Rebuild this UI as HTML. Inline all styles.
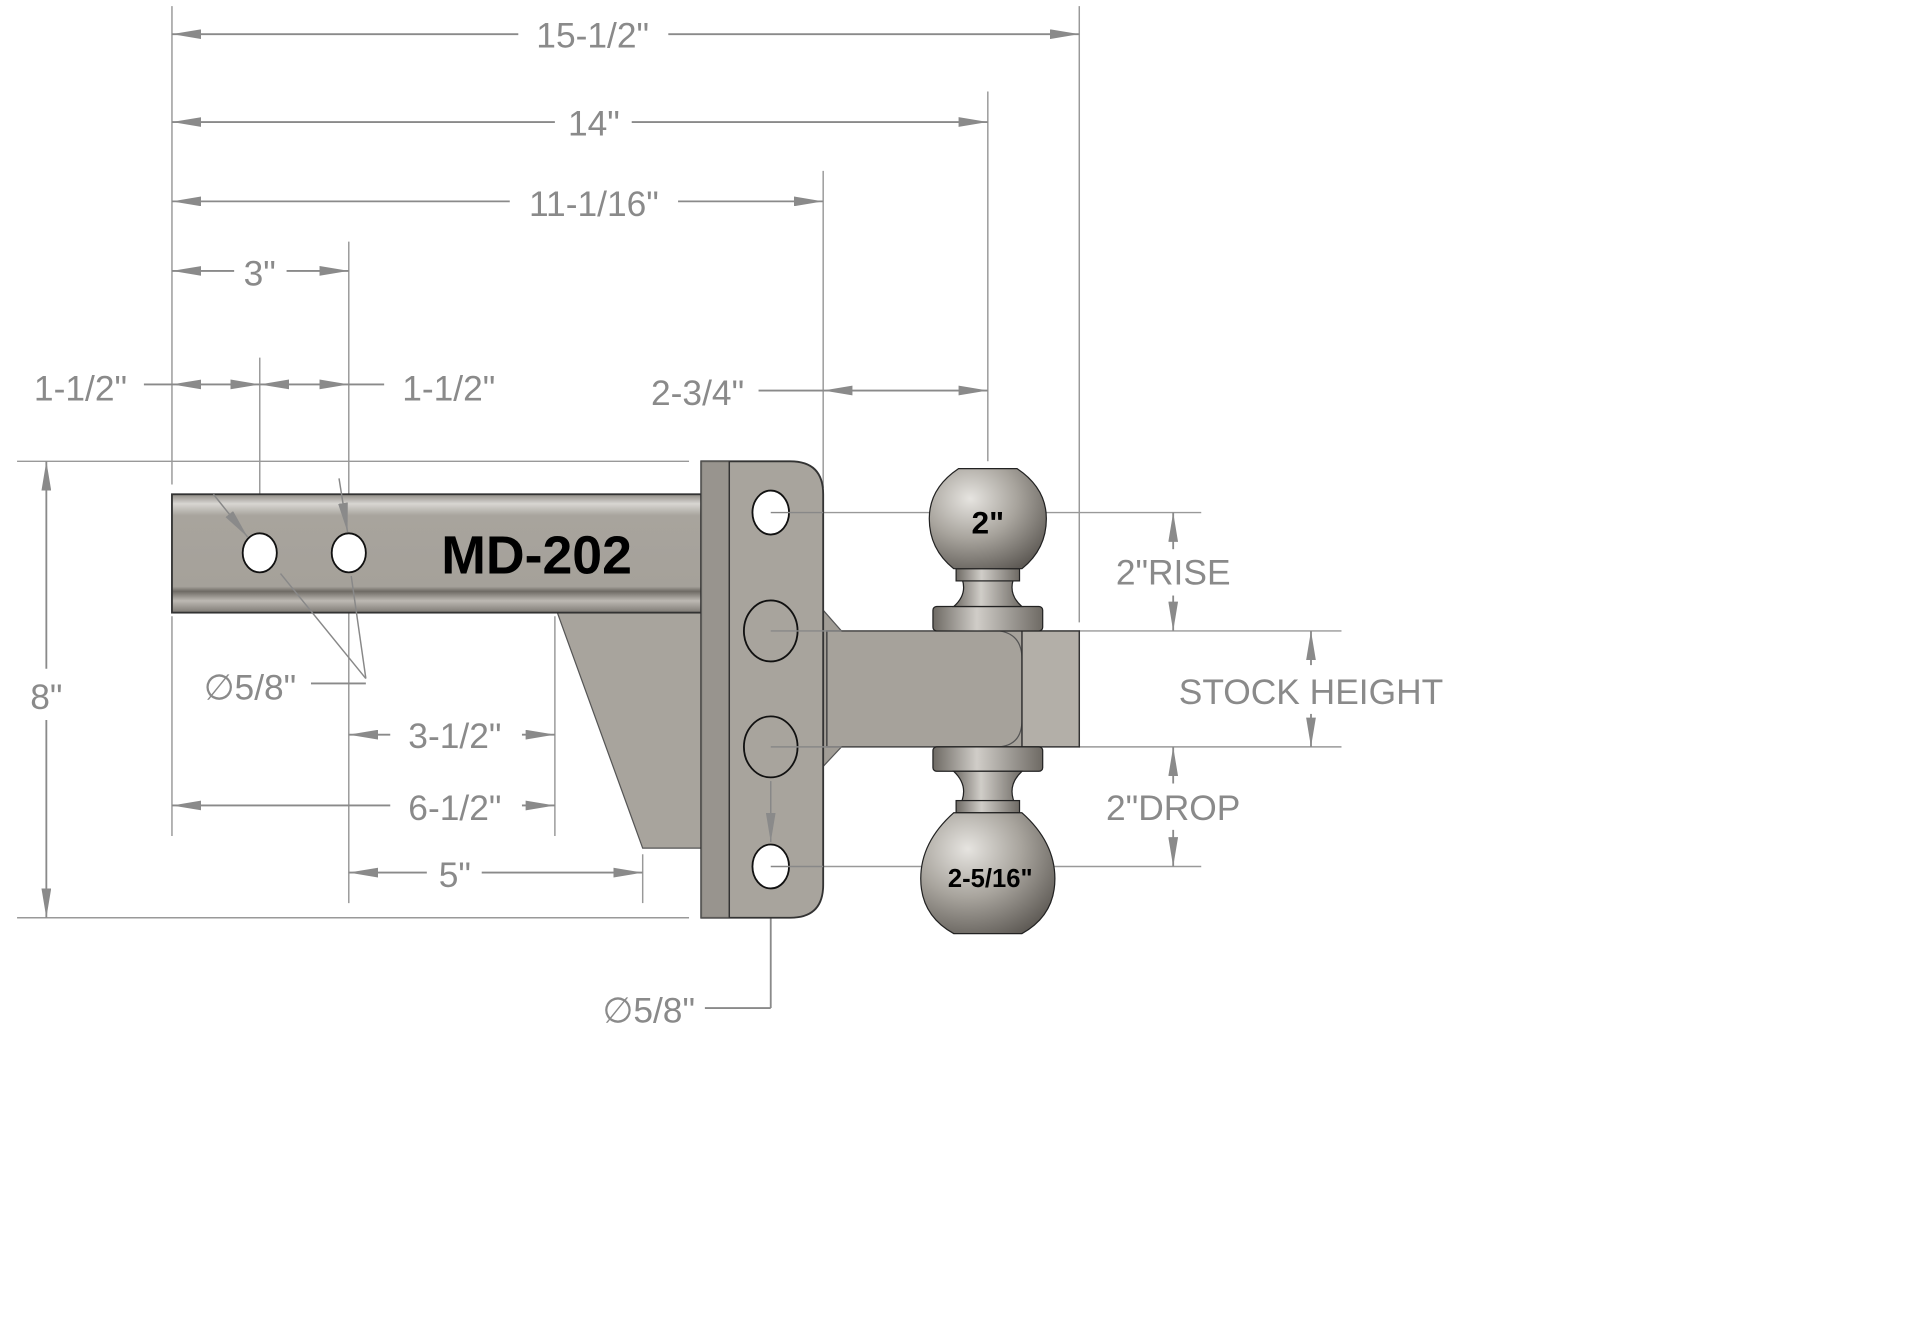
<!DOCTYPE html>
<html><head><meta charset="utf-8"><style>html,body{margin:0;padding:0;background:#fff}svg{display:block}</style></head>
<body>
<svg width="1911" height="1329" viewBox="0 0 1567 1089" preserveAspectRatio="none" xmlns="http://www.w3.org/2000/svg">
<defs>
<linearGradient id="bar" x1="0" y1="0" x2="0" y2="1">
<stop offset="0" stop-color="#8f8b84"/><stop offset="0.08" stop-color="#d8d6d2"/><stop offset="0.18" stop-color="#a8a49d"/><stop offset="0.78" stop-color="#a5a19a"/><stop offset="0.82" stop-color="#6e6a64"/><stop offset="0.9" stop-color="#bdb9b3"/><stop offset="1" stop-color="#7e7a74"/>
</linearGradient>
<radialGradient id="ball" cx="0.35" cy="0.3" r="0.8">
<stop offset="0" stop-color="#e6e4e0"/><stop offset="0.5" stop-color="#a8a49d"/><stop offset="1" stop-color="#5e5a55"/>
</radialGradient>
<linearGradient id="neck" x1="0" y1="0" x2="1" y2="0">
<stop offset="0" stop-color="#6e6a64"/><stop offset="0.4" stop-color="#d0cdc8"/><stop offset="1" stop-color="#6e6a64"/>
</linearGradient>
<marker id="b" viewBox="0 0 24 8" refX="24" refY="4" markerWidth="24" markerHeight="8" markerUnits="userSpaceOnUse" orient="auto-start-reverse"><path d="M0,0L24,4L0,8z" fill="#8a8a8a"/></marker>
</defs>
<g stroke="#999" stroke-width="1.2" fill="none">
<line x1="141" y1="5" x2="141" y2="397"/><line x1="141" y1="505" x2="141" y2="685"/>
<line x1="885" y1="5" x2="885" y2="510"/>
<line x1="810" y1="75" x2="810" y2="378"/>
<line x1="675" y1="140" x2="675" y2="400"/>
<line x1="286" y1="198" x2="286" y2="440"/><line x1="286" y1="470" x2="286" y2="740"/>
<line x1="213" y1="293" x2="213" y2="440"/>
<line x1="14" y1="378" x2="565" y2="378"/><line x1="14" y1="752" x2="565" y2="752"/>
<line x1="455" y1="505" x2="455" y2="685"/>
<line x1="527" y1="700" x2="527" y2="740"/>
<line x1="645" y1="420" x2="985" y2="420"/><line x1="645" y1="710" x2="985" y2="710"/>
<line x1="885" y1="517" x2="1100" y2="517"/><line x1="885" y1="612" x2="1100" y2="612"/>
</g>
<g stroke="#8a8a8a" stroke-width="1.5" fill="none">
<line x1="141" y1="28" x2="425" y2="28" marker-start="url(#b)"/><line x1="548" y1="28" x2="885" y2="28" marker-end="url(#b)"/>
<line x1="141" y1="100" x2="455" y2="100" marker-start="url(#b)"/><line x1="518" y1="100" x2="810" y2="100" marker-end="url(#b)"/>
<line x1="141" y1="165" x2="418" y2="165" marker-start="url(#b)"/><line x1="556" y1="165" x2="675" y2="165" marker-end="url(#b)"/>
<line x1="141" y1="222" x2="192" y2="222" marker-start="url(#b)"/><line x1="235" y1="222" x2="286" y2="222" marker-end="url(#b)"/>
<line x1="118" y1="315" x2="141" y2="315"/>
<line x1="141" y1="315" x2="213" y2="315" marker-start="url(#b)" marker-end="url(#b)"/>
<line x1="213" y1="315" x2="286" y2="315" marker-start="url(#b)" marker-end="url(#b)"/>
<line x1="286" y1="315" x2="315" y2="315"/>
<line x1="622" y1="320" x2="675" y2="320"/>
<line x1="675" y1="320" x2="810" y2="320" marker-start="url(#b)" marker-end="url(#b)"/>
<line x1="38" y1="378" x2="38" y2="548" marker-start="url(#b)"/><line x1="38" y1="590" x2="38" y2="752" marker-end="url(#b)"/>
<line x1="286" y1="602" x2="320" y2="602" marker-start="url(#b)"/><line x1="428" y1="602" x2="455" y2="602" marker-end="url(#b)"/>
<line x1="141" y1="660" x2="320" y2="660" marker-start="url(#b)"/><line x1="428" y1="660" x2="455" y2="660" marker-end="url(#b)"/>
<line x1="286" y1="715" x2="350" y2="715" marker-start="url(#b)"/><line x1="395" y1="715" x2="527" y2="715" marker-end="url(#b)"/>
<line x1="962" y1="420" x2="962" y2="450" marker-start="url(#b)"/><line x1="962" y1="488" x2="962" y2="517" marker-end="url(#b)"/>
<line x1="1075" y1="517" x2="1075" y2="545" marker-start="url(#b)"/><line x1="1075" y1="585" x2="1075" y2="612" marker-end="url(#b)"/>
<line x1="962" y1="612" x2="962" y2="642" marker-start="url(#b)"/><line x1="962" y1="680" x2="962" y2="710" marker-end="url(#b)"/>
<line x1="255" y1="560" x2="300" y2="560"/>
<line x1="578" y1="826" x2="632" y2="826"/><line x1="632" y1="826" x2="632" y2="730"/>
</g>
<polygon points="457,502 575,502 575,695 527,695" fill="#a8a49d" stroke="#555" stroke-width="1"/>
<rect x="141" y="405" width="434" height="97" fill="url(#bar)" stroke="#333" stroke-width="1.5"/>
<ellipse cx="213" cy="453" rx="14" ry="16" fill="#fff" stroke="#111" stroke-width="1.5"/>
<ellipse cx="286" cy="453" rx="14" ry="16" fill="#fff" stroke="#111" stroke-width="1.5"/>
<text x="440" y="470" text-anchor="middle" font-family="Liberation Sans, sans-serif" font-weight="bold" font-size="44" fill="#000">MD-202</text>
<polygon points="675,500 690,517 690,612 675,628" fill="#a19d96" stroke="#555"/>
<rect x="678" y="517" width="162" height="95" fill="#a6a29b" stroke="#444" stroke-width="1.2"/>
<path d="M820,517 Q838,520 838,540 L838,590 Q838,610 820,612" fill="none" stroke="#555"/>
<rect x="838" y="517" width="47" height="95" fill="#b3afa8" stroke="#333" stroke-width="1.2"/>
<path d="M575,378 L648,378 Q675,378 675,405 L675,725 Q675,752 648,752 L575,752 Z" fill="#a8a49d" stroke="#333" stroke-width="1.5"/>
<rect x="575" y="378" width="23" height="374" fill="#8e8a83" opacity="0.6"/>
<line x1="598" y1="378" x2="598" y2="752" stroke="#333" stroke-width="1.2"/>
<ellipse cx="632" cy="420" rx="15" ry="18" fill="#fff" stroke="#111" stroke-width="1.5"/>
<ellipse cx="632" cy="517" rx="22" ry="25" fill="#a8a49d" stroke="#111" stroke-width="1.5"/>
<ellipse cx="632" cy="612" rx="22" ry="25" fill="#a8a49d" stroke="#111" stroke-width="1.5"/>
<ellipse cx="632" cy="710" rx="15" ry="18" fill="#fff" stroke="#111" stroke-width="1.5"/>
<g stroke="#888" stroke-width="1.2" fill="none">
<line x1="632" y1="420" x2="675" y2="420"/><line x1="632" y1="517" x2="690" y2="517"/><line x1="632" y1="612" x2="690" y2="612"/><line x1="632" y1="710" x2="675" y2="710"/>
<line x1="632" y1="640" x2="632" y2="690" marker-end="url(#b)"/>
<line x1="300" y1="556" x2="230" y2="470"/><line x1="300" y1="556" x2="288" y2="472"/>
<line x1="175" y1="405" x2="203" y2="440" marker-end="url(#b)"/><line x1="278" y1="392" x2="285" y2="436" marker-end="url(#b)"/>
</g>
<!-- top ball -->
<rect x="765" y="497" width="90" height="20" rx="3" fill="url(#neck)" stroke="#222"/>
<path d="M786,468 Q796,485 782,497 L838,497 Q824,485 834,468 Z" fill="url(#neck)" stroke="#222"/>
<rect x="784" y="466" width="52" height="10" fill="url(#neck)" stroke="#222"/>
<path d="M786,384 L834,384 Q858,400 858,425 Q858,450 838,466 L782,466 Q762,450 762,425 Q762,400 786,384 Z" fill="url(#ball)" stroke="#222"/>
<text x="810" y="437" text-anchor="middle" font-family="Liberation Sans, sans-serif" font-weight="bold" font-size="26" fill="#000">2"</text>
<!-- bottom ball -->
<rect x="765" y="612" width="90" height="20" rx="3" fill="url(#neck)" stroke="#222"/>
<path d="M782,632 Q796,645 786,662 L834,662 Q824,645 838,632 Z" fill="url(#neck)" stroke="#222"/>
<rect x="784" y="656" width="52" height="10" fill="url(#neck)" stroke="#222"/>
<path d="M782,666 L838,666 Q865,690 865,720 Q865,750 838,765 L782,765 Q755,750 755,720 Q755,690 782,666 Z" fill="url(#ball)" stroke="#222"/>
<text x="812" y="727" text-anchor="middle" font-family="Liberation Sans, sans-serif" font-weight="bold" font-size="21" fill="#000">2-5/16"</text>
<g font-family="Liberation Sans, sans-serif" font-size="29" fill="#8a8a8a" text-anchor="middle">
<text x="486" y="39">15-1/2"</text>
<text x="487" y="111">14"</text>
<text x="487" y="177">11-1/16"</text>
<text x="213" y="234">3"</text>
<text x="66" y="328">1-1/2"</text>
<text x="368" y="328">1-1/2"</text>
<text x="572" y="332">2-3/4"</text>
<text x="38" y="581">8"</text>
<text x="205" y="573">∅5/8"</text>
<text x="373" y="613">3-1/2"</text>
<text x="373" y="672">6-1/2"</text>
<text x="373" y="727">5"</text>
<text x="962" y="479">2"RISE</text>
<text x="1075" y="577">STOCK HEIGHT</text>
<text x="962" y="672">2"DROP</text>
<text x="532" y="838">∅5/8"</text>
</g>
</svg>
</body></html>
